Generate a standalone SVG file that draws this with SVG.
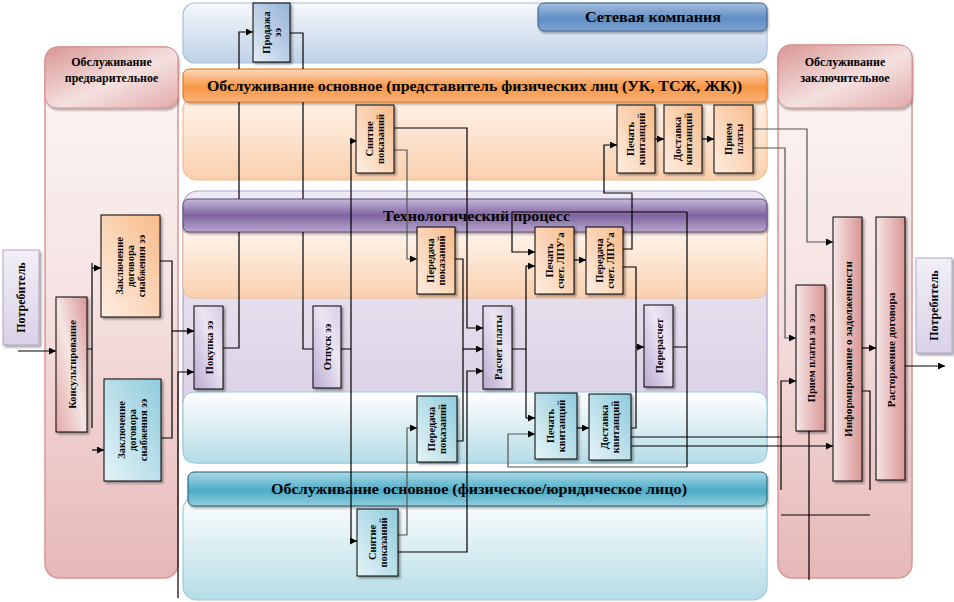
<svg xmlns="http://www.w3.org/2000/svg" width="954" height="602" viewBox="0 0 954 602">
<style>
text{font-family:'Liberation Serif','Times New Roman','DejaVu Serif',serif;font-weight:bold;fill:#000;text-anchor:middle}
.ht{font-size:14px}
.hs{font-size:12px}
.bt{font-size:10.5px}
.pt{font-size:12px}
.box{stroke:#000;stroke-width:1;filter:url(#sh)}
.c{fill:none;stroke:#000;stroke-width:1.2}
.cg{fill:none;stroke:#555;stroke-width:1.2}
.a{marker-end:url(#arr)}
</style>
<defs>
<filter id="sh" x="-20%" y="-20%" width="150%" height="150%"><feDropShadow dx="2" dy="2" stdDeviation="1" flood-color="#000" flood-opacity="0.35"/></filter>
<filter id="sh2" x="-5%" y="-20%" width="110%" height="150%"><feDropShadow dx="1" dy="2" stdDeviation="1" flood-color="#000" flood-opacity="0.3"/></filter>
<marker id="arr" viewBox="0 0 10 10" refX="10" refY="5" markerWidth="8" markerHeight="7" markerUnits="userSpaceOnUse" orient="auto"><path d="M0,0 L10,5 L0,10 z" fill="#000"/></marker>
<linearGradient id="gPinkLane" x1="0" y1="0" x2="0" y2="1"><stop offset="0" stop-color="#fdf7f7"/><stop offset="0.45" stop-color="#f6e3e3"/><stop offset="1" stop-color="#e6b8b7"/></linearGradient>
<linearGradient id="gPinkHead" x1="0" y1="0" x2="1" y2="1"><stop offset="0" stop-color="#d99694"/><stop offset="0.55" stop-color="#f4e1e0"/><stop offset="1" stop-color="#e2aaa9"/></linearGradient>
<linearGradient id="gNetLane" x1="0" y1="0" x2="0" y2="1"><stop offset="0" stop-color="#f6f8fc"/><stop offset="1" stop-color="#bfd1e7"/></linearGradient>
<linearGradient id="gNetHead" x1="0" y1="0" x2="0" y2="1"><stop offset="0" stop-color="#a7bfdf"/><stop offset="0.55" stop-color="#5f8dc4"/><stop offset="1" stop-color="#7fa3cf"/></linearGradient>
<linearGradient id="gOrLane" x1="0" y1="0" x2="0" y2="1"><stop offset="0" stop-color="#fef4ec"/><stop offset="1" stop-color="#fad0ae"/></linearGradient>
<linearGradient id="gOrHead" x1="0" y1="0" x2="0" y2="1"><stop offset="0" stop-color="#fcd8bb"/><stop offset="0.55" stop-color="#f79646"/><stop offset="1" stop-color="#fab27a"/></linearGradient>
<linearGradient id="gPuLane" x1="0" y1="0" x2="0" y2="1"><stop offset="0" stop-color="#eeeaf3"/><stop offset="1" stop-color="#d5cce2"/></linearGradient>
<linearGradient id="gPuHead" x1="0" y1="0" x2="0" y2="1"><stop offset="0" stop-color="#c5b9d9"/><stop offset="0.5" stop-color="#8064a2"/><stop offset="1" stop-color="#b8a8cd"/></linearGradient>
<linearGradient id="gBlLane" x1="0" y1="0" x2="0" y2="1"><stop offset="0" stop-color="#ffffff"/><stop offset="1" stop-color="#b5dce6"/></linearGradient>
<linearGradient id="gTeHead" x1="0" y1="0" x2="0" y2="1"><stop offset="0" stop-color="#a9d9e6"/><stop offset="0.55" stop-color="#4bacc6"/><stop offset="1" stop-color="#92cddd"/></linearGradient>
<linearGradient id="gOrBox" x1="1" y1="0" x2="0" y2="1"><stop offset="0" stop-color="#f8bb8a"/><stop offset="1" stop-color="#fdeee2"/></linearGradient>
<linearGradient id="gBlBox" x1="1" y1="0" x2="0" y2="1"><stop offset="0" stop-color="#8ecbdb"/><stop offset="1" stop-color="#e6f4f8"/></linearGradient>
<linearGradient id="gPuBox" x1="0" y1="1" x2="1" y2="0"><stop offset="0" stop-color="#b9a9d1"/><stop offset="0.6" stop-color="#ebe6f2"/><stop offset="1" stop-color="#d6cde4"/></linearGradient>
<linearGradient id="gPiBox" x1="1" y1="0" x2="0" y2="1"><stop offset="0" stop-color="#d99694"/><stop offset="0.5" stop-color="#f5e5e5"/><stop offset="1" stop-color="#e2a9a8"/></linearGradient>
<linearGradient id="gPiBox2" x1="0" y1="0" x2="1" y2="0"><stop offset="0" stop-color="#f5e6e6"/><stop offset="1" stop-color="#d99694"/></linearGradient>
<linearGradient id="gNetBox" x1="1" y1="0" x2="0" y2="1"><stop offset="0" stop-color="#95b3d7"/><stop offset="1" stop-color="#e3ebf5"/></linearGradient>
<linearGradient id="gLav" x1="0" y1="0" x2="0" y2="1"><stop offset="0" stop-color="#f2eff6"/><stop offset="1" stop-color="#d9d1e6"/></linearGradient>
</defs>

<g id="lanes">
  <g id="lane-pre">
    <rect x="45" y="47" width="133" height="531" rx="14" fill="url(#gPinkLane)" stroke="#d99694" stroke-width="1.5"/>
    <rect x="45" y="47" width="133" height="61" rx="12" fill="url(#gPinkHead)" stroke="#d4908e" filter="url(#sh2)"/>
    <text class="hs" x="111.5" y="66">Обслуживание</text>
    <text class="hs" x="111.5" y="82">предварительное</text>
  </g>
  <g id="lane-post">
    <rect x="778" y="45" width="134" height="533" rx="14" fill="url(#gPinkLane)" stroke="#d99694" stroke-width="1.5"/>
    <rect x="778" y="45" width="134" height="63" rx="12" fill="url(#gPinkHead)" stroke="#d4908e" filter="url(#sh2)"/>
    <text class="hs" x="845" y="66">Обслуживание</text>
    <text class="hs" x="845" y="82">заключительное</text>
  </g>
  <g id="lane-net">
    <rect x="183" y="3" width="584" height="60" rx="12" fill="url(#gNetLane)" stroke="#a6bedc" stroke-width="1.2"/>
  </g>
  <g id="lane-tech">
    <rect x="183" y="191" width="584" height="272" rx="15" fill="url(#gPuLane)" stroke="#b2a1c7" stroke-width="1.2"/>
    <path d="M183,232 H767 V286 Q767,298 755,298 H195 Q183,298 183,286 Z" fill="url(#gOrLane)" stroke="#f5b98c" stroke-width="1"/>
    <path d="M195,392 H755 Q767,392 767,404 V451 Q767,463 755,463 H195 Q183,463 183,451 V404 Q183,392 195,392 Z" fill="url(#gBlLane)" stroke="#93cddd" stroke-width="1"/>
  </g>
  <g id="lane-org">
    <rect x="183" y="96" width="584" height="84" rx="14" fill="url(#gOrLane)" stroke="#f5b98c" stroke-width="1.2"/>
  </g>
  <g id="lane-phys">
    <rect x="183" y="496" width="584" height="104" rx="14" fill="url(#gBlLane)" stroke="#93cddd" stroke-width="1.2"/>
  </g>
  <g id="headers">
    <rect x="538" y="3" width="229" height="28" rx="6" fill="url(#gNetHead)" stroke="#385d8a" stroke-width="1" filter="url(#sh2)"/>
    <text class="ht" x="653" y="22" font-size="13" textLength="136" lengthAdjust="spacingAndGlyphs">Сетевая компания</text>
    <rect x="183" y="69" width="584" height="33" rx="6" fill="url(#gOrHead)" stroke="#e46c0a" stroke-width="1" filter="url(#sh2)"/>
    <text class="ht" x="474.5" y="91" textLength="535" lengthAdjust="spacingAndGlyphs">Обслуживание основное (представитель физических лиц (УК, ТСЖ, ЖК))</text>
    <rect x="183" y="199" width="584" height="33" rx="6" fill="url(#gPuHead)" stroke="#5f497a" stroke-width="1" filter="url(#sh2)"/>
    <text class="ht" x="476.5" y="221" textLength="187" lengthAdjust="spacingAndGlyphs">Технологический процесс</text>
    <rect x="188" y="472" width="579" height="34" rx="6" fill="url(#gTeHead)" stroke="#215968" stroke-width="1" filter="url(#sh2)"/>
    <text class="ht" x="479" y="494" textLength="416" lengthAdjust="spacingAndGlyphs">Обслуживание основное (физическое/юридическое лицо)</text>
  </g>
</g>

<g id="connectors">
  <path class="c a" d="M18,351 H56"/>
  <path class="c" d="M87,349 H92 M92,263 V428"/>
  <path class="c a" d="M92,268 H101"/>
  <path class="c a" d="M92,450 H104"/>
  <path class="c" d="M160,261 H172 V438 H161"/>
  <path class="c a" d="M172,331 H194"/>
  <path class="c a" d="M178,598 V372 H194"/>
  <path class="c a" d="M223,348 H239 V232 M239,199 V102 M239,69 V32 H253"/>
  <path class="c" d="M290,33 H303 V69 M303,102 V199 M303,232 V349 H313"/>
  <path class="c" d="M341,349 H351 M351,141 V541"/>
  <path class="c a" d="M351,141 H357"/>
  <path class="c a" d="M351,541 H357"/>
  <path class="c a" d="M394,128 H467 V328 H483"/>
  <path class="cg a" d="M394,150 H407 V259 H417"/>
  <path class="c" d="M455,259 H463 V441 H457"/>
  <path class="c a" d="M463,349 H483"/>
  <path class="cg a" d="M398,535 H407 V428 H417"/>
  <path class="c a" d="M398,552 H467 V371 H483"/>
  <path class="c" d="M512,349 H526 M526,266 V418"/>
  <path class="c a" d="M526,266 H535"/>
  <path class="c a" d="M526,418 H535"/>
  <path class="c a" d="M574,260 H586"/>
  <path class="c a" d="M623,249 H632 V193 H604 V145 H617"/>
  <path class="c" d="M623,267 H636 V428 H631"/>
  <path class="c a" d="M636,347 H644"/>
  <path class="c" d="M673,347 H687 M687,212 V467"/>
  <path class="c a" d="M687,212 H512 V252 H535"/>
  <path class="cg a" d="M687,467 H508 V434 H535"/>
  <path class="c a" d="M577,428 H589"/>
  <path class="c a" d="M655,139 H664"/>
  <path class="c a" d="M702,139 H714"/>
  <path class="cg a" d="M753,129 H807 V242 H833"/>
  <path class="cg a" d="M753,148 H785 V338 H796"/>
  <path class="c a" d="M631,437 H781 V381 H796"/>
  <path class="c" d="M781,437 V490"/>
  <path class="c a" d="M631,446 H833"/>
  <path class="c" d="M862,391 H870 V490"/>
  <path class="c" d="M781,515 H870"/>
  <path class="c" d="M809,431 V580"/>
  <path class="c a" d="M862,348 H876"/>
  <path class="c a" d="M905,366 H945"/>
</g>

<g id="nodes">
  <g id="n-potreb-left"><rect class="box" x="3" y="250" width="36" height="95" fill="url(#gLav)" style="stroke:#b2a1c7"/><text class="pt" transform="translate(21,297.5) rotate(-90)" y="4">Потребитель</text></g>
  <g id="n-konsult"><rect class="box" x="56" y="297" width="31" height="135" fill="url(#gPiBox)"/><text class="bt" transform="translate(71.5,364.5) rotate(-90)" y="4" font-size="11.5">Консультирование</text></g>
  <g id="n-dog-org"><rect class="box" x="101" y="215" width="59" height="102" fill="url(#gOrBox)"/><text class="bt" transform="translate(130.5,266) rotate(-90)"><tspan x="0" y="-7.5">Заключение</tspan><tspan x="0" y="3.5">договора</tspan><tspan x="0" y="14.5">снабжения ээ</tspan></text></g>
  <g id="n-dog-phys"><rect class="box" x="104" y="379" width="57" height="102" fill="url(#gBlBox)"/><text class="bt" transform="translate(132.5,430) rotate(-90)"><tspan x="0" y="-7.5">Заключение</tspan><tspan x="0" y="3.5">договора</tspan><tspan x="0" y="14.5">снабжения ээ</tspan></text></g>
  <g id="n-prodazha"><rect class="box" x="253" y="3" width="37" height="59" fill="url(#gNetBox)"/><text class="bt" transform="translate(271.5,32.5) rotate(-90)"><tspan x="0" y="-2">Продажа</tspan><tspan x="0" y="9">ээ</tspan></text></g>
  <g id="n-pokupka"><rect class="box" x="194" y="306" width="29" height="83" fill="url(#gPuBox)"/><text class="bt" transform="translate(208.5,347.5) rotate(-90)" y="4" font-size="11">Покупка ээ</text></g>
  <g id="n-otpusk"><rect class="box" x="313" y="306" width="28" height="82" fill="url(#gPuBox)"/><text class="bt" transform="translate(327,347) rotate(-90)" y="4" font-size="11">Отпуск ээ</text></g>
  <g id="n-snyatie-org"><rect class="box" x="356" y="105" width="38" height="68" fill="url(#gOrBox)"/><text class="bt" transform="translate(375,139) rotate(-90)"><tspan x="0" y="-2">Снятие</tspan><tspan x="0" y="9">показаний</tspan></text></g>
  <g id="n-peredacha-pok-org"><rect class="box" x="417" y="227" width="38" height="67" fill="url(#gOrBox)"/><text class="bt" transform="translate(436,260.5) rotate(-90)"><tspan x="0" y="-2">Передача</tspan><tspan x="0" y="9">показаний</tspan></text></g>
  <g id="n-peredacha-pok-phys"><rect class="box" x="417" y="396" width="40" height="66" fill="url(#gBlBox)"/><text class="bt" transform="translate(437,429) rotate(-90)"><tspan x="0" y="-2">Передача</tspan><tspan x="0" y="9">показаний</tspan></text></g>
  <g id="n-snyatie-phys"><rect class="box" x="357" y="509" width="41" height="67" fill="url(#gBlBox)"/><text class="bt" transform="translate(377.5,542.5) rotate(-90)"><tspan x="0" y="-2">Снятие</tspan><tspan x="0" y="9">показаний</tspan></text></g>
  <g id="n-raschet"><rect class="box" x="483" y="306" width="29" height="83" fill="url(#gPuBox)"/><text class="bt" transform="translate(497.5,347.5) rotate(-90)" y="4" font-size="11">Расчет платы</text></g>
  <g id="n-pechat-schet"><rect class="box" x="535" y="227" width="39" height="67" fill="url(#gOrBox)"/><text class="bt" transform="translate(554.5,260.5) rotate(-90)"><tspan x="0" y="-2">Печать</tspan><tspan x="0" y="9">счет. ЛПУ'а</tspan></text></g>
  <g id="n-peredacha-schet"><rect class="box" x="586" y="227" width="37" height="67" fill="url(#gOrBox)"/><text class="bt" transform="translate(604.5,260.5) rotate(-90)"><tspan x="0" y="-2">Передача</tspan><tspan x="0" y="9">счет. ЛПУ'а</tspan></text></g>
  <g id="n-pechat-kv-org"><rect class="box" x="617" y="105" width="38" height="68" fill="url(#gOrBox)"/><text class="bt" transform="translate(636,139) rotate(-90)"><tspan x="0" y="-2">Печать</tspan><tspan x="0" y="9">квитанций</tspan></text></g>
  <g id="n-dostavka-kv-org"><rect class="box" x="664" y="105" width="38" height="68" fill="url(#gOrBox)"/><text class="bt" transform="translate(683,139) rotate(-90)"><tspan x="0" y="-2">Доставка</tspan><tspan x="0" y="9">квитанций</tspan></text></g>
  <g id="n-priem-org"><rect class="box" x="714" y="105" width="39" height="68" fill="url(#gOrBox)"/><text class="bt" transform="translate(733.5,139) rotate(-90)"><tspan x="0" y="-2">Прием</tspan><tspan x="0" y="9">платы</tspan></text></g>
  <g id="n-pereraschet"><rect class="box" x="644" y="305" width="29" height="82" fill="url(#gPuBox)"/><text class="bt" transform="translate(658.5,346) rotate(-90)" y="4" font-size="11">Перерасчет</text></g>
  <g id="n-pechat-kv-phys"><rect class="box" x="535" y="393" width="42" height="66" fill="url(#gBlBox)"/><text class="bt" transform="translate(556,426) rotate(-90)"><tspan x="0" y="-2">Печать</tspan><tspan x="0" y="9">квитанций</tspan></text></g>
  <g id="n-dostavka-kv-phys"><rect class="box" x="589" y="394" width="42" height="66" fill="url(#gBlBox)"/><text class="bt" transform="translate(610,427) rotate(-90)"><tspan x="0" y="-2">Доставка</tspan><tspan x="0" y="9">квитанций</tspan></text></g>
  <g id="n-priem-ee"><rect class="box" x="796" y="285" width="29" height="146" fill="url(#gPiBox2)"/><text class="bt" transform="translate(810.5,358) rotate(-90)" y="4" font-size="11">Прием платы за ээ</text></g>
  <g id="n-inform"><rect class="box" x="833" y="217" width="29" height="264" fill="url(#gPiBox2)"/><text class="bt" transform="translate(847.5,349) rotate(-90)" y="4" font-size="11" textLength="176" lengthAdjust="spacingAndGlyphs">Информирование о задолженности</text></g>
  <g id="n-rastorzh"><rect class="box" x="876" y="217" width="29" height="263" fill="url(#gPiBox2)"/><text class="bt" transform="translate(890.5,350) rotate(-90)" y="4" font-size="11" textLength="115" lengthAdjust="spacingAndGlyphs">Расторжение договора</text></g>
  <g id="n-potreb-right"><rect class="box" x="916" y="258" width="36" height="95" fill="url(#gLav)" style="stroke:#b2a1c7"/><text class="pt" transform="translate(934,305.5) rotate(-90)" y="4">Потребитель</text></g>
</g>
</svg>
